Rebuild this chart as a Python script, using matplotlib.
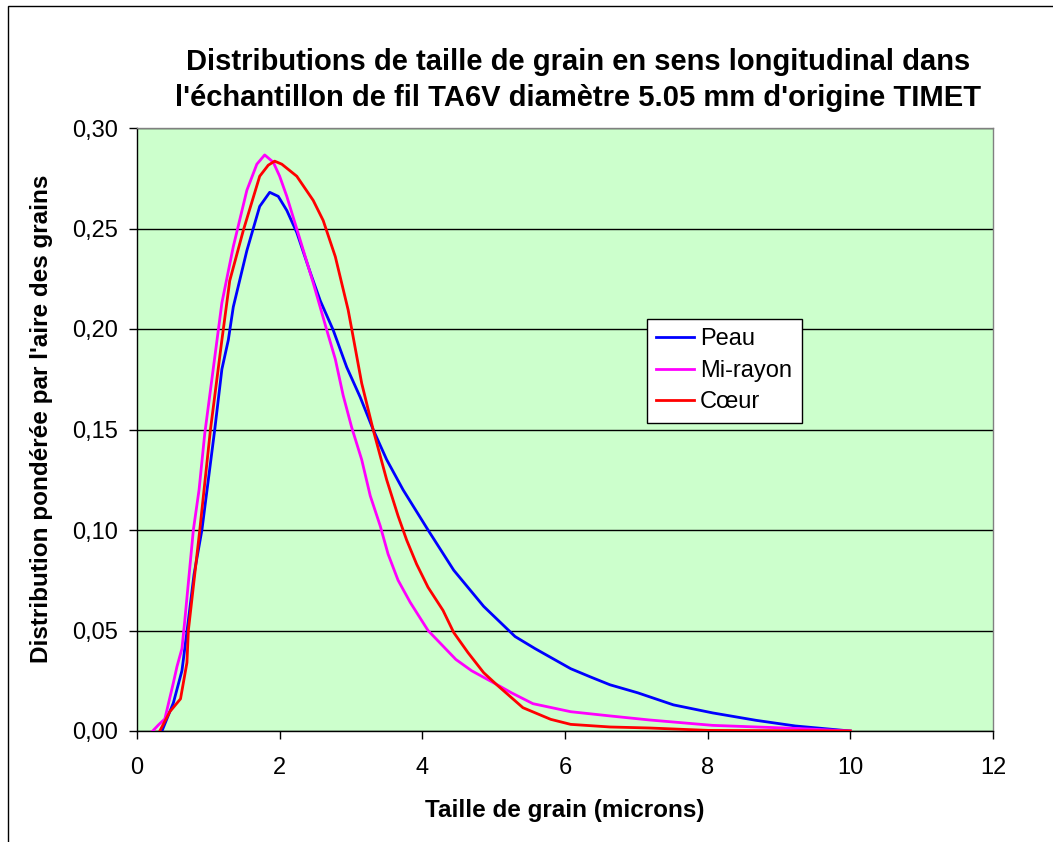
import matplotlib
matplotlib.use("Agg")
import matplotlib.pyplot as plt
from matplotlib.patches import Rectangle

plt.rcParams['font.family'] = ['Liberation Sans', 'DejaVu Sans']

# Peau
peau_x = [0.35, 0.51, 0.63, 0.72, 0.80, 0.91, 1.09, 1.19, 1.28, 1.35, 1.54, 1.72, 1.86, 1.98, 2.10,
          2.24, 2.43, 2.57, 2.75, 2.94, 3.13, 3.31, 3.50, 3.73, 4.08, 4.44, 4.86, 5.30, 5.58, 6.08,
          6.35, 6.63, 7.02, 7.52, 8.07, 8.68, 9.23, 10.0]
peau_y = [0.0, 0.014, 0.030, 0.055, 0.078, 0.100, 0.150, 0.180, 0.1945, 0.211, 0.239, 0.261, 0.268,
          0.266, 0.259, 0.248, 0.228, 0.214, 0.1995, 0.181, 0.166, 0.150, 0.135, 0.120, 0.100, 0.080,
          0.062, 0.047, 0.041, 0.031, 0.027, 0.023, 0.019, 0.013, 0.009, 0.0053, 0.0025, 0.0]

# Mi-rayon
mi_x = [0.22, 0.30, 0.39, 0.51, 0.56, 0.63, 0.67, 0.79, 0.87, 0.95, 1.19, 1.35, 1.54, 1.68, 1.79,
        1.91, 2.00, 2.10, 2.29, 2.47, 2.66, 2.78, 2.89, 3.01, 3.15, 3.27, 3.41, 3.52, 3.66, 3.83,
        4.08, 4.47, 4.69, 5.05, 5.25, 5.55, 6.08, 6.63, 7.18, 8.07, 9.23, 10.0]
mi_y = [0.0, 0.003, 0.006, 0.024, 0.032, 0.041, 0.055, 0.100, 0.120, 0.148, 0.213, 0.241, 0.269,
        0.282, 0.2866, 0.283, 0.276, 0.266, 0.244, 0.223, 0.1995, 0.185, 0.167, 0.151, 0.135, 0.117,
        0.102, 0.088, 0.075, 0.064, 0.050, 0.0356, 0.030, 0.023, 0.019, 0.0136, 0.0096, 0.0075,
        0.0055, 0.0028, 0.0013, 0.0]

# Coeur
coeur_x = [0.32, 0.46, 0.61, 0.70, 0.72, 0.80, 0.88, 1.03, 1.19, 1.30, 1.49, 1.72, 1.84, 1.93, 2.03,
           2.24, 2.47, 2.61, 2.78, 2.96, 3.01, 3.15, 3.31, 3.50, 3.66, 3.78, 3.92, 4.08, 4.29, 4.44,
           4.64, 4.86, 5.05, 5.41, 5.80, 6.08, 6.63, 7.18, 8.01, 10.0]
coeur_y = [0.0, 0.0096, 0.016, 0.034, 0.050, 0.075, 0.100, 0.150, 0.1945, 0.224, 0.249, 0.276, 0.2815,
           0.2835, 0.282, 0.276, 0.264, 0.254, 0.236, 0.2095, 0.200, 0.173, 0.150, 0.125, 0.107,
           0.095, 0.083, 0.0715, 0.060, 0.049, 0.039, 0.029, 0.0228, 0.0116, 0.0058, 0.0033, 0.002,
           0.0015, 0.0003, 0.0]

x_ticks = [0, 2, 4, 6, 8, 10, 12]
y_ticks = [0.0, 0.05, 0.10, 0.15, 0.20, 0.25, 0.30]
y_ticklabels = ["0,00", "0,05", "0,10", "0,15", "0,20", "0,25", "0,30"]

W, H = 1053, 842
fig = plt.figure(figsize=(W / 100, H / 100), dpi=100)
fig.patch.set_facecolor('white')

# outer chart border (left/top visible)
fig.add_artist(Rectangle((8 / W, -0.1), 1.2, 1 - 6 / H + 0.1, transform=fig.transFigure,
                         fill=False, edgecolor='black', linewidth=1.0))

l, r, b, t = 137, 993, 731, 128
ax = fig.add_axes([l / W, 1 - b / H, (r - l) / W, (b - t) / H])
ax.set_facecolor('#CCFFCC')

ax.plot(peau_x, peau_y, color='#0000FF', lw=2.0, label='Peau', zorder=3)
ax.plot(mi_x, mi_y, color='#FF00FF', lw=2.0, label='Mi-rayon', zorder=3)
ax.plot(coeur_x, coeur_y, color='#FF0000', lw=2.0, label='Cœur', zorder=4)

ax.set_xlim(0, 12)
ax.set_ylim(0, 0.30)
ax.set_xticks(x_ticks)
ax.set_xticklabels([str(v) for v in x_ticks])
ax.set_yticks(y_ticks)
ax.set_yticklabels(y_ticklabels)
ax.yaxis.grid(True, color='black', lw=1.0)
ax.set_axisbelow(True)
ax.tick_params(axis='both', direction='out', length=6, width=1, color='black',
               labelsize=17)
ax.tick_params(axis='y', pad=8)
ax.tick_params(axis='x', pad=13)

for s in ['left', 'bottom']:
    ax.spines[s].set_color('black')
    ax.spines[s].set_linewidth(1.0)
for s in ['top', 'right']:
    ax.spines[s].set_color('#808080')
    ax.spines[s].set_linewidth(1.0)

ax.set_xlabel('Taille de grain (microns)', fontsize=17.5, fontweight='bold', labelpad=14)
ax.set_ylabel("Distribution pondérée par l'aire des grains", fontsize=17.5, fontweight='bold')
ax.yaxis.set_label_coords(-0.098, 0.518)

fig.text(578 / W, 1 - 80 / H,
         "Distributions de taille de grain en sens longitudinal dans\n"
         "l'échantillon de fil TA6V diamètre 5.05 mm d'origine TIMET",
         ha='center', va='center', fontsize=21, fontweight='bold', linespacing=1.35)

leg = ax.legend(loc='upper left', bbox_to_anchor=((647 - l) / (r - l), (b - 319) / (b - t)),
                fontsize=17, frameon=True, fancybox=False, edgecolor='black',
                framealpha=1, handlelength=1.6, borderpad=0.4, labelspacing=0.4,
                handletextpad=0.25, borderaxespad=0)
leg.get_frame().set_linewidth(1.0)

fig.savefig('out.png', dpi=100, facecolor='white')
